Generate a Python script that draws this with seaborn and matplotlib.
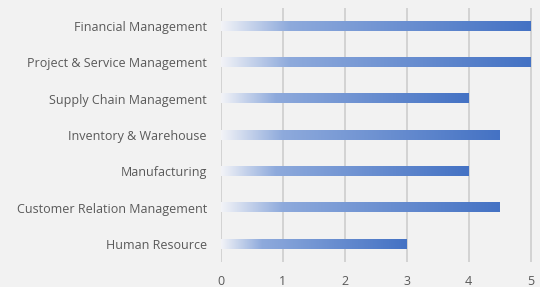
import numpy as np
import pandas as pd
import seaborn as sns
import matplotlib.pyplot as plt
import matplotlib.colors as colors

# data
modules = ["Financial Management", "Project & Service Management", "Supply Chain Management",
           "Inventory & Warehouse", "Manufacturing", "Customer Relation Management", "Human Resource"]
scores = [5, 5, 4, 4.5, 4, 4.5, 3]
x_ticks = [0, 1, 2, 3, 4, 5]

df = pd.DataFrame({"module": modules, "score": scores})

bg = "#f2f2f2"
sns.set_style("white")
plt.rcParams["font.family"] = ["Open Sans", "DejaVu Sans"]

fig = plt.figure(figsize=(5.4, 2.87), dpi=100, facecolor=bg)
ax = fig.add_axes([0.409, 0.087, 0.576, 0.885])
ax.set_facecolor(bg)

sns.barplot(data=df, x="score", y="module", orient="h", width=0.26, color="#4472c4", ax=ax)

# gradient fill, light on the left and solid blue at the end
grad = colors.LinearSegmentedColormap.from_list(
    "fade", [(0.0, "#f2f3f7"), (0.22, "#8eaadc"), (1.0, "#4472c4")])
ramp = np.linspace(0, 1, 256).reshape(1, -1)
for p in ax.patches:
    x0, y0 = p.get_x(), p.get_y()
    w, h = p.get_width(), p.get_height()
    p.set_visible(False)
    ax.imshow(ramp, cmap=grad, aspect="auto", extent=[x0, x0 + w, y0 + h, y0], zorder=3)

ax.set_xlim(0, 5.02)
ax.set_ylim(6.5, -0.5)
ax.set_xticks(x_ticks)
ax.set_xticklabels([str(t) for t in x_ticks])
ax.xaxis.grid(True, color="#d0d0d0", linewidth=1.3)
ax.set_axisbelow(True)
for s in ax.spines.values():
    s.set_visible(False)
ax.set_xlabel("")
ax.set_ylabel("")
ax.tick_params(axis="both", length=0, labelsize=9, labelcolor="#595959")
ax.tick_params(axis="y", pad=10)
ax.tick_params(axis="x", pad=9)

plt.savefig("out.png", dpi=100, facecolor=bg)
